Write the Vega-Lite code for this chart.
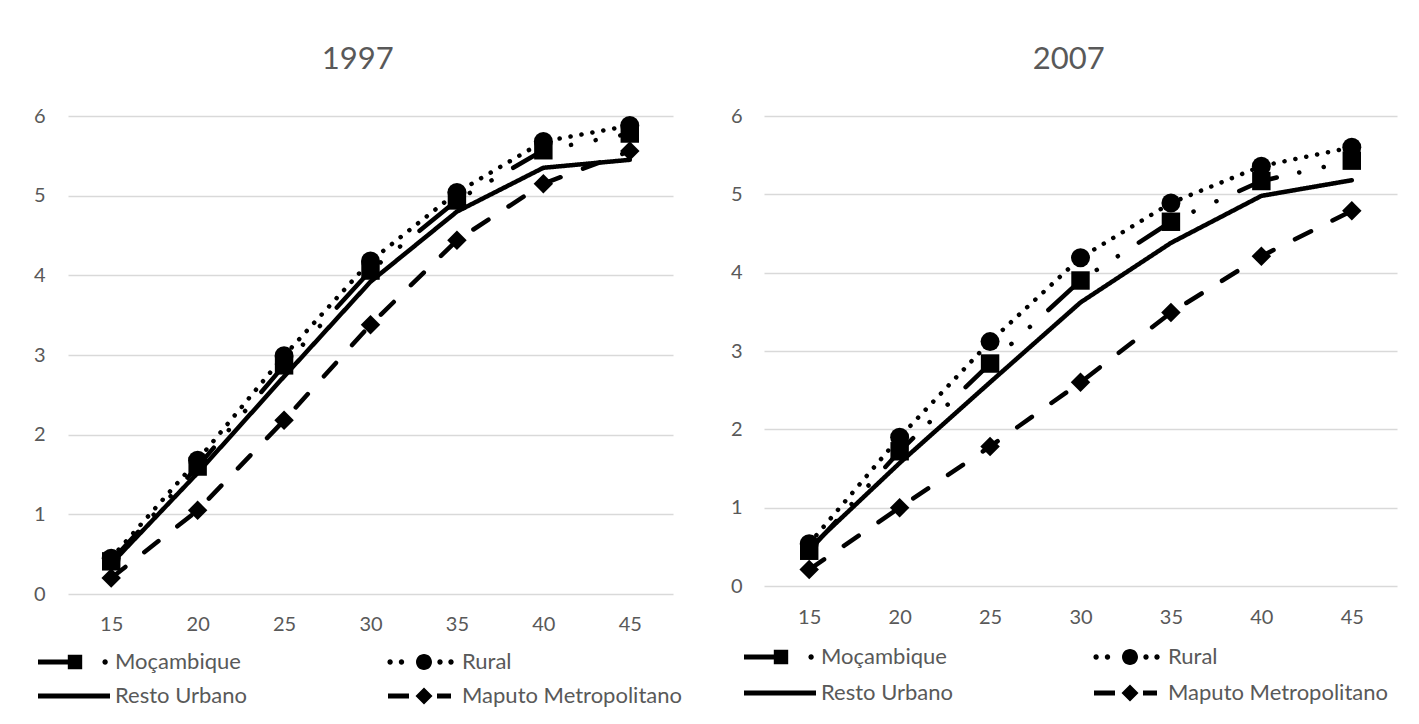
{
  "$schema": "https://vega.github.io/schema/vega-lite/v6.json",
  "background": "white",
  "padding": {"left": 33, "top": 44, "right": 5, "bottom": 5},
  "data": {
    "values": [
      {"year": "1997", "age": 15, "series": "Moçambique", "value": 0.41},
      {"year": "1997", "age": 20, "series": "Moçambique", "value": 1.60},
      {"year": "1997", "age": 25, "series": "Moçambique", "value": 2.87},
      {"year": "1997", "age": 30, "series": "Moçambique", "value": 4.06},
      {"year": "1997", "age": 35, "series": "Moçambique", "value": 4.94},
      {"year": "1997", "age": 40, "series": "Moçambique", "value": 5.57},
      {"year": "1997", "age": 45, "series": "Moçambique", "value": 5.78},
      {"year": "1997", "age": 15, "series": "Rural", "value": 0.45},
      {"year": "1997", "age": 20, "series": "Rural", "value": 1.68},
      {"year": "1997", "age": 25, "series": "Rural", "value": 2.99},
      {"year": "1997", "age": 30, "series": "Rural", "value": 4.18},
      {"year": "1997", "age": 35, "series": "Rural", "value": 5.04},
      {"year": "1997", "age": 40, "series": "Rural", "value": 5.68},
      {"year": "1997", "age": 45, "series": "Rural", "value": 5.88},
      {"year": "1997", "age": 15, "series": "Resto Urbano", "value": 0.38},
      {"year": "1997", "age": 20, "series": "Resto Urbano", "value": 1.52},
      {"year": "1997", "age": 25, "series": "Resto Urbano", "value": 2.73},
      {"year": "1997", "age": 30, "series": "Resto Urbano", "value": 3.92},
      {"year": "1997", "age": 35, "series": "Resto Urbano", "value": 4.80},
      {"year": "1997", "age": 40, "series": "Resto Urbano", "value": 5.35},
      {"year": "1997", "age": 45, "series": "Resto Urbano", "value": 5.45},
      {"year": "1997", "age": 15, "series": "Maputo Metropolitano", "value": 0.20},
      {"year": "1997", "age": 20, "series": "Maputo Metropolitano", "value": 1.05},
      {"year": "1997", "age": 25, "series": "Maputo Metropolitano", "value": 2.18},
      {"year": "1997", "age": 30, "series": "Maputo Metropolitano", "value": 3.38},
      {"year": "1997", "age": 35, "series": "Maputo Metropolitano", "value": 4.44},
      {"year": "1997", "age": 40, "series": "Maputo Metropolitano", "value": 5.15},
      {"year": "1997", "age": 45, "series": "Maputo Metropolitano", "value": 5.56},
      {"year": "2007", "age": 15, "series": "Moçambique", "value": 0.45},
      {"year": "2007", "age": 20, "series": "Moçambique", "value": 1.72},
      {"year": "2007", "age": 25, "series": "Moçambique", "value": 2.84},
      {"year": "2007", "age": 30, "series": "Moçambique", "value": 3.90},
      {"year": "2007", "age": 35, "series": "Moçambique", "value": 4.65},
      {"year": "2007", "age": 40, "series": "Moçambique", "value": 5.17},
      {"year": "2007", "age": 45, "series": "Moçambique", "value": 5.43},
      {"year": "2007", "age": 15, "series": "Rural", "value": 0.54},
      {"year": "2007", "age": 20, "series": "Rural", "value": 1.90},
      {"year": "2007", "age": 25, "series": "Rural", "value": 3.12},
      {"year": "2007", "age": 30, "series": "Rural", "value": 4.19},
      {"year": "2007", "age": 35, "series": "Rural", "value": 4.89},
      {"year": "2007", "age": 40, "series": "Rural", "value": 5.36},
      {"year": "2007", "age": 45, "series": "Rural", "value": 5.60},
      {"year": "2007", "age": 15, "series": "Resto Urbano", "value": 0.48},
      {"year": "2007", "age": 20, "series": "Resto Urbano", "value": 1.57},
      {"year": "2007", "age": 25, "series": "Resto Urbano", "value": 2.60},
      {"year": "2007", "age": 30, "series": "Resto Urbano", "value": 3.62},
      {"year": "2007", "age": 35, "series": "Resto Urbano", "value": 4.38},
      {"year": "2007", "age": 40, "series": "Resto Urbano", "value": 4.98},
      {"year": "2007", "age": 45, "series": "Resto Urbano", "value": 5.18},
      {"year": "2007", "age": 15, "series": "Maputo Metropolitano", "value": 0.21},
      {"year": "2007", "age": 20, "series": "Maputo Metropolitano", "value": 1.00},
      {"year": "2007", "age": 25, "series": "Maputo Metropolitano", "value": 1.78},
      {"year": "2007", "age": 30, "series": "Maputo Metropolitano", "value": 2.60},
      {"year": "2007", "age": 35, "series": "Maputo Metropolitano", "value": 3.49},
      {"year": "2007", "age": 40, "series": "Maputo Metropolitano", "value": 4.21},
      {"year": "2007", "age": 45, "series": "Maputo Metropolitano", "value": 4.79}
    ]
  },
  "spacing": 91,
  "bounds": "flush",
  "resolve": {
    "scale": {"strokeDash": "independent", "shape": "independent", "size": "independent", "x": "independent", "y": "independent"},
    "legend": {"strokeDash": "independent", "shape": "independent", "size": "independent"}
  },
  "hconcat": [
    {
      "width": 605,
      "height": 478,
      "title": {"text": "1997", "fontSize": 31, "font": "Lato", "fontWeight": "normal", "color": "#595959", "anchor": "middle", "frame": "bounds", "baseline": "alphabetic", "offset": 6},
      "transform": [{"filter": "datum.year === '1997'"}],
      "encoding": {
        "x": {"field": "age", "type": "ordinal", "scale": {"type": "point", "padding": 0.5}, "axis": {"title": null, "labelAngle": 0, "grid": false, "labelPadding": 30, "labelBaseline": "middle"}},
        "y": {"field": "value", "type": "quantitative", "scale": {"domain": [0, 6], "nice": false}, "axis": {"title": null, "values": [0, 1, 2, 3, 4, 5, 6], "grid": true, "labelPadding": 23}}
      },
      "resolve": {"scale": {"shape": "independent"}, "legend": {"shape": "independent"}},
      "layer": [
        {
          "mark": {"type": "line", "strokeWidth": 4.5, "strokeCap": "round", "strokeJoin": "round", "color": "#000000"},
          "encoding": {
            "strokeDash": {
              "field": "series", "type": "nominal", "legend": null,
              "scale": {"domain": ["Moçambique", "Rural", "Resto Urbano", "Maputo Metropolitano"], "range": [[40, 23, 0.1, 25, 0.1, 25], [0.1, 11], [1, 0], [18, 24]]}
            }
          }
        },
        {
          "transform": [{"filter": "datum.series !== 'Resto Urbano'"}],
          "mark": {"type": "point", "filled": true, "opacity": 1, "color": "#000000"},
          "encoding": {
            "shape": {"field": "series", "type": "nominal", "scale": {"domain": ["Moçambique", "Rural", "Maputo Metropolitano"], "range": ["square", "circle", "diamond"]}, "legend": null},
            "size": {"field": "series", "type": "ordinal", "scale": {"domain": ["Moçambique", "Rural", "Maputo Metropolitano"], "range": [340, 380, 600]}, "legend": null}
          }
        },
        {
          "mark": {"type": "point", "filled": true, "opacity": 0, "color": "#000000"},
          "encoding": {
            "shape": {
              "field": "series", "type": "nominal",
              "scale": {"domain": ["Moçambique", "Rural", "Resto Urbano", "Maputo Metropolitano"], "range": [
                "M-3.6,-0.24H-0.6V0.24H-3.6Z M-0.62,-0.72H0.82V0.72H-0.62Z M2.84,0A0.27,0.27,0,1,0,3.38,0A0.27,0.27,0,1,0,2.84,0Z",
                "M-3.36,0A0.27,0.27,0,1,0,-2.82,0A0.27,0.27,0,1,0,-3.36,0Z M-2.22,0A0.27,0.27,0,1,0,-1.68,0A0.27,0.27,0,1,0,-2.22,0Z M-0.5,0A0.8,0.8,0,1,0,1.1,0A0.8,0.8,0,1,0,-0.5,0Z M1.63,0A0.27,0.27,0,1,0,2.17,0A0.27,0.27,0,1,0,1.63,0Z M2.73,0A0.27,0.27,0,1,0,3.27,0A0.27,0.27,0,1,0,2.73,0Z",
                "M-3.6,-0.25H3.6V0.25H-3.6Z",
                "M-3.3,-0.25H-1.2V0.25H-3.3Z M0.3,-0.85L1.15,0L0.3,0.85L-0.55,0Z M1.6,-0.25H3.0V0.25H1.6Z"
              ]},
              "legend": {
                "orient": "none", "legendX": -30, "legendY": 535, "title": null, "columns": 2, "direction": "horizontal", "columnPadding": 137, "rowPadding": 12, "labelLimit": 0,
                "symbolSize": 400, "symbolStrokeWidth": 0, "symbolOpacity": 1, "symbolFillColor": "#000000", "symbolOffset": 25, "labelOffset": 30, "padding": 0
              }
            }
          }
        }
      ]
    },
    {
      "width": 633,
      "height": 470,
      "title": {"text": "2007", "fontSize": 31, "font": "Lato", "fontWeight": "normal", "color": "#595959", "anchor": "middle", "frame": "bounds", "baseline": "alphabetic", "offset": 6, "dx": 5},
      "transform": [{"filter": "datum.year === '2007'"}],
      "encoding": {
        "x": {"field": "age", "type": "ordinal", "scale": {"type": "point", "padding": 0.5}, "axis": {"title": null, "labelAngle": 0, "grid": false, "labelPadding": 31, "labelBaseline": "middle"}},
        "y": {"field": "value", "type": "quantitative", "scale": {"domain": [0, 6], "nice": false}, "axis": {"title": null, "values": [0, 1, 2, 3, 4, 5, 6], "grid": true, "labelPadding": 22}}
      },
      "resolve": {"scale": {"shape": "independent"}, "legend": {"shape": "independent"}},
      "layer": [
        {
          "mark": {"type": "line", "strokeWidth": 4.5, "strokeCap": "round", "strokeJoin": "round", "color": "#000000"},
          "encoding": {
            "strokeDash": {
              "field": "series", "type": "nominal", "legend": null,
              "scale": {"domain": ["Moçambique", "Rural", "Resto Urbano", "Maputo Metropolitano"], "range": [[40, 23, 0.1, 25, 0.1, 25], [0.1, 11], [1, 0], [18, 24]]}
            }
          }
        },
        {
          "transform": [{"filter": "datum.series !== 'Resto Urbano'"}],
          "mark": {"type": "point", "filled": true, "opacity": 1, "color": "#000000"},
          "encoding": {
            "shape": {"field": "series", "type": "nominal", "scale": {"domain": ["Moçambique", "Rural", "Maputo Metropolitano"], "range": ["square", "circle", "diamond"]}, "legend": null},
            "size": {"field": "series", "type": "ordinal", "scale": {"domain": ["Moçambique", "Rural", "Maputo Metropolitano"], "range": [340, 380, 600]}, "legend": null}
          }
        },
        {
          "mark": {"type": "point", "filled": true, "opacity": 0, "color": "#000000"},
          "encoding": {
            "shape": {
              "field": "series", "type": "nominal",
              "scale": {"domain": ["Moçambique", "Rural", "Resto Urbano", "Maputo Metropolitano"], "range": [
                "M-3.6,-0.24H-0.6V0.24H-3.6Z M-0.62,-0.72H0.82V0.72H-0.62Z M2.84,0A0.27,0.27,0,1,0,3.38,0A0.27,0.27,0,1,0,2.84,0Z",
                "M-3.36,0A0.27,0.27,0,1,0,-2.82,0A0.27,0.27,0,1,0,-3.36,0Z M-2.22,0A0.27,0.27,0,1,0,-1.68,0A0.27,0.27,0,1,0,-2.22,0Z M-0.5,0A0.8,0.8,0,1,0,1.1,0A0.8,0.8,0,1,0,-0.5,0Z M1.63,0A0.27,0.27,0,1,0,2.17,0A0.27,0.27,0,1,0,1.63,0Z M2.73,0A0.27,0.27,0,1,0,3.27,0A0.27,0.27,0,1,0,2.73,0Z",
                "M-3.6,-0.25H3.6V0.25H-3.6Z",
                "M-3.3,-0.25H-1.2V0.25H-3.3Z M0.3,-0.85L1.15,0L0.3,0.85L-0.55,0Z M1.6,-0.25H3.0V0.25H1.6Z"
              ]},
              "legend": {
                "orient": "none", "legendX": -20, "legendY": 530, "title": null, "columns": 2, "direction": "horizontal", "columnPadding": 137, "rowPadding": 14, "labelLimit": 0,
                "symbolSize": 400, "symbolStrokeWidth": 0, "symbolOpacity": 1, "symbolFillColor": "#000000", "symbolOffset": 25, "labelOffset": 30, "padding": 0
              }
            }
          }
        }
      ]
    }
  ],
  "config": {
    "view": {"stroke": null},
    "font": "Lato",
    "axis": {"labelFont": "Lato", "labelFontSize": 20, "labelColor": "#595959", "domain": false, "ticks": false, "gridColor": "#d9d9d9", "gridWidth": 1.5},
    "legend": {"labelFont": "Lato", "labelFontSize": 22, "labelColor": "#595959"}
  }
}
